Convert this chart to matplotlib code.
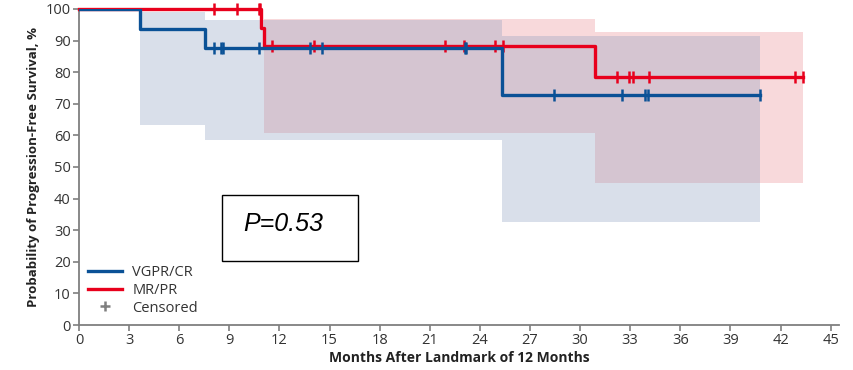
import matplotlib
matplotlib.use("Agg")
import matplotlib.pyplot as plt
from matplotlib.lines import Line2D
from matplotlib.patches import Rectangle
import numpy as np

# VGPR/CR step curve
blue_t = [0, 3.65, 7.55, 25.3, 40.75]
blue_s = [100, 93.75, 87.5, 72.9, 72.9]
blue_ci_t = [3.65, 7.55, 25.3, 40.75]
blue_ci_hi = [99.0, 96.5, 91.5, 91.5]
blue_ci_lo = [63.3, 58.5, 32.6, 32.6]
blue_cens_t = [8.08, 8.5, 8.62, 10.77, 13.82, 14.54, 23.1, 23.2, 28.43, 32.5, 33.87, 34.05, 40.75]

# MR/PR step curve
red_t = [0, 10.9, 11.05, 30.9, 43.35]
red_s = [100, 94.1, 88.2, 78.4, 78.4]
red_ci_t = [11.05, 30.9, 43.35]
red_ci_hi = [96.8, 92.7, 92.7]
red_ci_lo = [60.8, 45.0, 45.0]
red_cens_t = [8.08, 9.46, 10.75, 10.85, 11.55, 14.06, 21.9, 23.04, 24.9, 25.37,
              32.2, 32.9, 33.15, 34.1, 42.85, 43.33]

x_ticks = list(range(0, 46, 3))
y_ticks = list(range(0, 101, 10))

BLUE = "#0a5196"
RED = "#e8001c"
RED_DARK = "#cc0a2e"
GRAY = "#7f7f7f"

plt.rcParams['font.family'] = ['Open Sans', 'DejaVu Sans']

fig = plt.figure(figsize=(8.54, 3.70), dpi=100)
ax = fig.add_axes([0.0925, 0.1216, 0.8899, 0.8541])


def surv_at(ts, ss, t):
    idx = np.searchsorted(ts, t, side='right') - 1
    return ss[idx]

# red band
ax.fill_between(red_ci_t, red_ci_lo, red_ci_hi, step='post', color=(235/255, 132/255, 138/255),
                alpha=0.3, linewidth=0, zorder=1)
# blue band
ax.fill_between(blue_ci_t, blue_ci_lo, blue_ci_hi, step='post', color=(132/255, 152/255, 188/255),
                alpha=0.3, linewidth=0, zorder=1.5)

# red line
ax.step(red_t, red_s, where='post', color=RED, lw=2.4, zorder=3, clip_on=False)
ax.plot(red_cens_t, [surv_at(red_t, red_s, t) for t in red_cens_t], ls='none', marker='|',
        ms=9, mew=1.8, color=RED, zorder=3, clip_on=False)

# blue line
ax.step(blue_t, blue_s, where='post', color=BLUE, lw=2.4, zorder=4)
ax.plot(blue_cens_t, [surv_at(blue_t, blue_s, t) for t in blue_cens_t], ls='none', marker='|',
        ms=9, mew=1.8, color=BLUE, zorder=4)

ax.set_xlim(0, 45.5)
ax.set_ylim(0, 100)
ax.set_xticks(x_ticks)
ax.set_yticks(y_ticks)
for s in ['top', 'right']:
    ax.spines[s].set_visible(False)
for s in ['left', 'bottom']:
    ax.spines[s].set_color(GRAY)
    ax.spines[s].set_linewidth(1.3)
ax.tick_params(axis='both', colors=GRAY, labelcolor='#333333', labelsize=10.5, length=4,
               width=1.2, pad=2)

ax.set_xlabel("Months After Landmark of 12 Months", fontsize=10, fontweight='bold',
              color='#222222', labelpad=2)
ax.set_ylabel("Probability of Progression-Free Survival, %", fontsize=9.5, fontweight='bold',
              color='#222222', labelpad=4)

# P-value box
ax.add_patch(Rectangle((8.56, 20.3), 8.14, 20.8, facecolor='white', edgecolor='black',
                       lw=1.0, zorder=6))
ax.text(12.2, 32.0, "P=0.53", fontsize=18, fontstyle='italic', color='black',
        family=['Liberation Sans', 'DejaVu Sans'], va='center', ha='center', zorder=7)

handles = [Line2D([], [], color=BLUE, lw=2.4),
           Line2D([], [], color=RED, lw=2.4),
           Line2D([], [], color=GRAY, ls='none', marker='+', ms=7, mew=1.8)]
leg = ax.legend(handles, ["VGPR/CR", "MR/PR", "Censored"], loc='lower left',
                bbox_to_anchor=(0.0, 0.0), frameon=False, fontsize=10.5, handlelength=2.3,
                handletextpad=0.7, labelspacing=0.2, borderaxespad=0.25)
for t in leg.get_texts():
    t.set_color('#333333')

fig.savefig("out.png", dpi=100)
